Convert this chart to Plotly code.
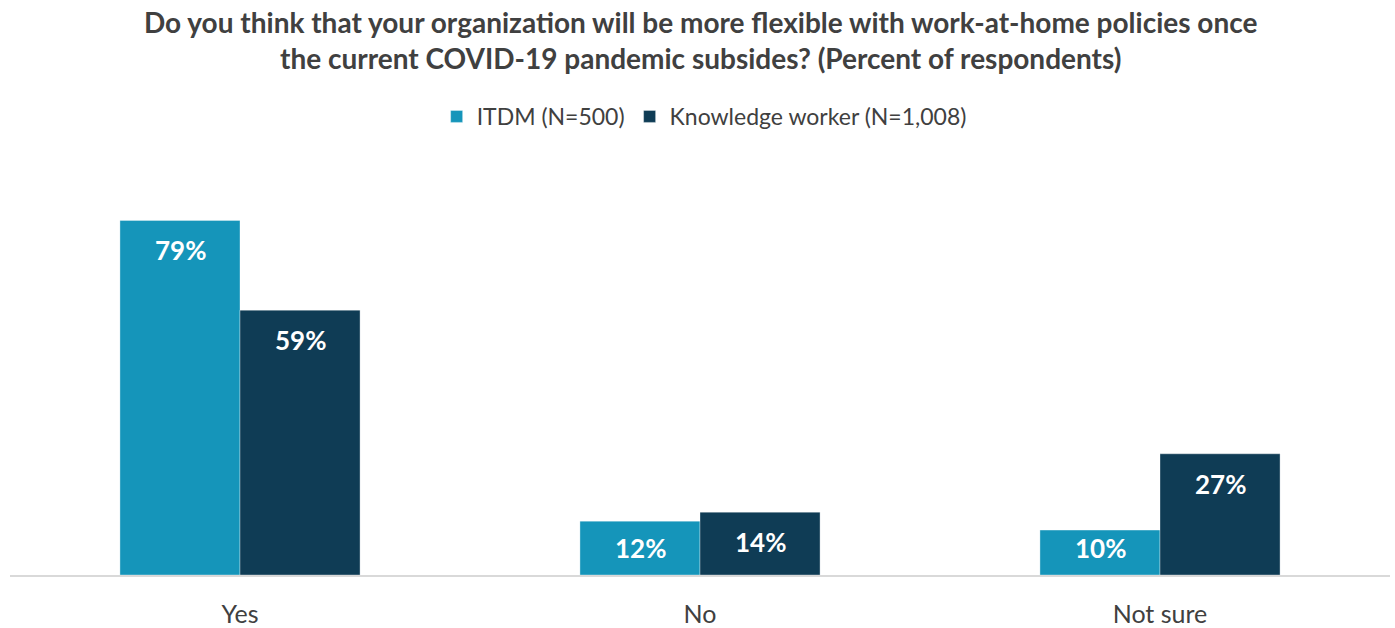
import plotly.graph_objects as go

categories = ["Yes", "No", "Not sure"]
itdm = [79, 12, 10]
knowledge = [59, 14, 27]
series_names = ["ITDM (N=500)", "Knowledge worker (N=1,008)"]
colors = ["#1595BA", "#0F3C55"]
title = ("Do you think that your organization will be more flexible with work-at-home policies once<br>"
         "the current COVID-19 pandemic subsides? (Percent of respondents)")

FONT = "Lato"
H, T, B = 628, 171, 53
YMAX = 90
plot_h = H - T - B
px_per_unit = plot_h / YMAX

fig = go.Figure()
for name, vals, col in zip(series_names, [itdm, knowledge], colors):
    fig.add_trace(go.Bar(
        x=categories, y=vals, name=name,
        marker=dict(color=col, line=dict(color="rgba(255,255,255,0.35)", width=1)),
        hoverinfo="skip",
    ))

annotations = []
for shift, vals in zip([-60, 60], [itdm, knowledge]):
    for c, v in zip(categories, vals):
        h = v * px_per_unit
        off = min(30, h - 27)
        annotations.append(dict(
            x=c, y=v, xref="x", yref="y", text=f"{v}%", showarrow=False,
            xshift=shift, yshift=-off, yanchor="middle",
            font=dict(family=FONT, size=26, color="white", weight="bold"),
        ))

# title as annotation
annotations.append(dict(
    text=title, x=0.5, xref="paper", xanchor="center",
    y=(H - B - 3) / plot_h, yref="paper", yanchor="top", showarrow=False,
    align="center",
    font=dict(family=FONT, size=28, color="#404040", weight="bold"),
))

fig.update_layout(
    width=1395, height=H,
    margin=dict(l=10, r=5, t=T, b=B, autoexpand=False),
    paper_bgcolor="white", plot_bgcolor="white",
    barmode="group", bargap=0.478, bargroupgap=0,
    legend=dict(orientation="h", x=0.503, xanchor="center", y=1.135, yanchor="middle",
                font=dict(family=FONT, size=23, color="#404040"), itemclick=False,
                traceorder="normal"),
    xaxis=dict(showline=True, linecolor="#D9D9D9", linewidth=2, ticks="", automargin=False,
               tickfont=dict(family=FONT, size=25, color="#404040"), ticklabelstandoff=16),
    yaxis=dict(range=[0, YMAX], visible=False, showgrid=False, automargin=False),
    annotations=annotations,
    showlegend=True,
)
fig.write_html("out.html")
